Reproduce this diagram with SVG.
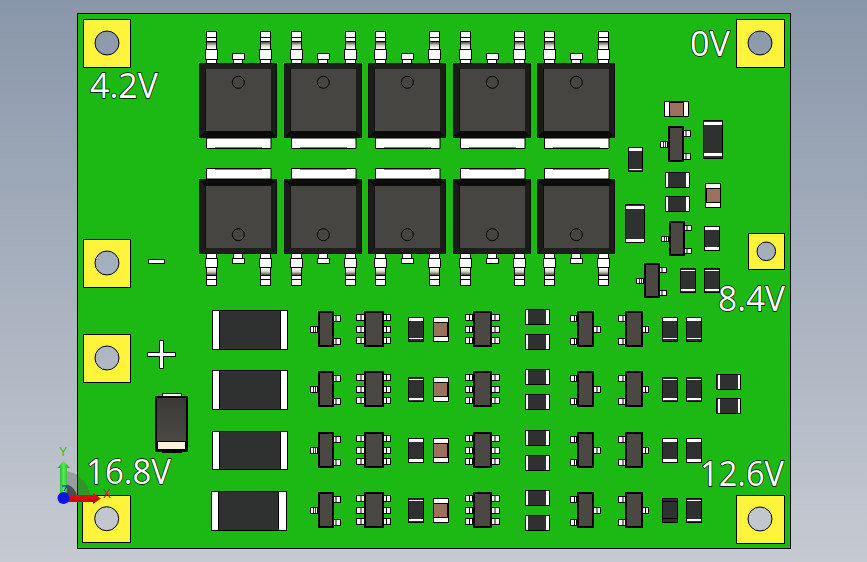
<svg xmlns="http://www.w3.org/2000/svg" xmlns:xlink="http://www.w3.org/1999/xlink" width="867" height="562" viewBox="0 0 867 562">
<style>
.w{fill:#fff;stroke:#000;stroke-width:1}
.d{fill:#2f3130;stroke:#000;stroke-width:1}
.k{fill:#000}
.b{fill:#fff}
.body{fill:#4b4844;stroke:#000;stroke-width:2}
.pad{fill:#fff33b;stroke:#000;stroke-width:1}
.hole{fill:url(#bg);stroke:#000;stroke-width:1}
.t{font-family:"Open Sans","Liberation Sans",sans-serif;font-size:34px;fill:#fff;stroke:#000;stroke-width:1.3;paint-order:stroke}
.f{font-family:"Liberation Sans",sans-serif;font-size:12px}
rect{shape-rendering:crispEdges}
</style>
<defs>
<linearGradient id="bg" gradientUnits="userSpaceOnUse" x1="0" y1="0" x2="0" y2="562"><stop offset="0" stop-color="#8997aa"/><stop offset="1" stop-color="#c6cad2"/></linearGradient>
<linearGradient id="lead" x1="0" y1="0" x2="0" y2="1"><stop offset="0" stop-color="#55534a"/><stop offset=".5" stop-color="#d8d5c6"/><stop offset="1" stop-color="#fff"/></linearGradient>
<linearGradient id="dio" x1="0" y1="0" x2="0" y2="1"><stop offset="0" stop-color="#3a3936"/><stop offset="1" stop-color="#4f4c47"/></linearGradient>
<linearGradient id="gy" x1="0" y1="0" x2="1" y2="0"><stop offset="0" stop-color="#0f9a1a"/><stop offset=".5" stop-color="#55ee55"/><stop offset="1" stop-color="#0f9a1a"/></linearGradient>
<linearGradient id="rx" x1="0" y1="0" x2="0" y2="1"><stop offset="0" stop-color="#f01010"/><stop offset="1" stop-color="#b00808"/></linearGradient>
<g id="pinT">
<rect class="w" x="206.500" y="31.500" width="9.500" height="18"/>
<rect class="k" x="207" y="37" width="8.500" height="1.200"/>
<rect class="k" x="207" y="41" width="8.500" height="1.200"/>
<rect x="207" y="42.200" width="8.500" height="6.500" fill="url(#lead)"/>
<rect class="w" x="205.500" y="49.500" width="12" height="9.500"/>
<rect class="w" x="206.500" y="59" width="9.500" height="5"/>
</g>
<g id="dpak">
<use xlink:href="#pinT"/>
<use xlink:href="#pinT" x="54"/>
<rect class="w" x="232.500" y="53.500" width="12" height="5.500"/>
<rect class="w" x="233.500" y="59" width="9" height="5"/>
<path class="w" d="M206.500 138V148.500H271V138Z"/>
<path class="k" d="M215 147.500H262V148.500H215Z"/>
<rect x="199" y="63" width="78" height="75" fill="#000"/>
<path fill="#1e1e1c" d="M199.500 63.500H276.500L270.500 69H205.500Z"/>
<path fill="#1b1b19" d="M199.500 63.500V137.500L205.500 131V69Z"/>
<path fill="#1b1b19" d="M276.500 63.500V137.500L270.500 131V69Z"/>
<path fill="#0c0c0b" d="M199.500 137.500H276.500L270.500 131H205.500Z"/>
<rect x="205.500" y="69" width="65" height="62" fill="#464542"/>
<circle cx="238.300" cy="82.300" r="6" fill="none" stroke="#000" stroke-width="1"/>
</g>
<g id="sa">
<rect class="w" x="-7" y="15.500" width="7" height="5.500"/><path class="k" d="M-4.500 15.500h.8v5.500h-.8zM-2.500 15.500h.8v5.500h-.8z"/>
<rect class="w" x="16" y="4.500" width="7" height="5.500"/><path class="k" d="M18 4.500h1v5.500h-1z"/>
<rect class="w" x="16" y="27.500" width="7" height="5.500"/><path class="k" d="M18 27.500h1v5.500h-1z"/>
<rect class="body" x="1" y="1" width="14.500" height="33.700"/>
</g>
<g id="sb">
<rect class="w" x="-6.500" y="4.500" width="6.500" height="5.500"/><path class="k" d="M-2.500 4.500h1v5.500h-1z"/>
<rect class="w" x="-6.500" y="27.500" width="6.500" height="5.500"/><path class="k" d="M-2.500 27.500h1v5.500h-1z"/>
<rect class="w" x="17" y="15.500" width="6.500" height="5.500"/><path class="k" d="M20 15.500h1v5.500h-1z"/>
<rect class="body" x="1" y="1" width="15.700" height="33.700"/>
</g>
<g id="s6">
<rect class="w" x="-7.500" y="3" width="7.500" height="6"/><path class="k" d="M-3.500 3h1v6h-1z"/>
<rect class="w" x="-7.500" y="15" width="7.500" height="6"/><path class="k" d="M-3.500 15h1v6h-1z"/>
<rect class="w" x="-7.500" y="26" width="7.500" height="6"/><path class="k" d="M-3.500 26h1v6h-1z"/>
<rect class="w" x="19" y="3" width="7.500" height="6"/><path class="k" d="M22 3h1v6h-1z"/>
<rect class="w" x="19" y="15" width="7.500" height="6"/><path class="k" d="M22 15h1v6h-1z"/>
<rect class="w" x="19" y="26" width="7.500" height="6"/><path class="k" d="M22 26h1v6h-1z"/>
<rect class="body" x="1" y="1" width="17.500" height="33.700"/>
</g>
<g id="cv">
<rect class="d" x="0.500" y="0.500" width="14.500" height="24"/>
<rect class="b" x="1" y="1" width="14" height="3"/>
<rect class="b" x="1" y="20.500" width="14" height="1.500"/>
</g>
<g id="cv2">
<rect class="d" x="0.500" y="0.500" width="14.500" height="24"/>
<rect class="b" x="1" y="1.500" width="14" height="1.500"/>
<rect class="b" x="1" y="21" width="14" height="1.500"/>
</g>
<g id="cv3">
<rect class="d" x="0.500" y="0.500" width="14.500" height="23.500"/>
<rect class="b" x="1" y="1" width="14" height="3"/>
<rect class="b" x="1" y="20.500" width="14" height="3"/>
</g>
<g id="ch">
<rect class="d" x="0.500" y="0.500" width="24" height="15"/>
<rect class="b" x="1.500" y="1" width="2" height="14"/>
<rect class="b" x="21.500" y="1" width="2.500" height="14"/>
</g>
<g id="rv">
<rect class="w" x="0.500" y="0.500" width="15" height="24"/>
<rect x="1" y="5.500" width="14" height="14" fill="#9b705c" stroke="#000" stroke-width="1"/>
</g>
<g id="dbig">
<rect class="d" x="0.500" y="0.500" width="75" height="38.500"/>
<rect class="w" x="0.500" y="0.500" width="7" height="38.500"/>
<rect class="w" x="68" y="0.500" width="7.500" height="38.500"/>
</g>
<g id="row">
<use xlink:href="#sa" x="317.500" y="311"/>
<use xlink:href="#s6" x="364" y="311"/>
<use xlink:href="#rv" x="432.500" y="317"/>
<use xlink:href="#s6" x="472.500" y="311"/>
<use xlink:href="#ch" x="524.500" y="309"/>
<use xlink:href="#ch" x="524.500" y="334"/>
<use xlink:href="#sb" x="576.500" y="311"/>
<use xlink:href="#sb" x="625" y="311"/>
</g>
</defs>

<rect width="867" height="562" fill="url(#bg)"/>
<rect x="77" y="13.500" width="713" height="535" fill="#1cb813" stroke="#000" stroke-width="1"/>

<g id="pads">
<rect class="pad" x="83" y="19.500" width="47.500" height="47.500"/><circle class="hole" cx="107" cy="43" r="12"/>
<rect class="pad" x="736.500" y="19.500" width="47.500" height="47.500"/><circle class="hole" cx="760" cy="43" r="12"/>
<rect class="pad" x="83" y="239.500" width="47.500" height="47.500"/><circle class="hole" cx="107" cy="263" r="12"/>
<rect class="pad" x="83" y="334.500" width="47.500" height="47.500"/><circle class="hole" cx="107" cy="358" r="12"/>
<rect class="pad" x="82.500" y="495.500" width="48" height="47"/><circle class="hole" cx="106.700" cy="518.700" r="12"/>
<rect class="pad" x="736.500" y="495.500" width="47.500" height="47.500"/><circle class="hole" cx="760" cy="519" r="12"/>
<rect class="pad" x="748.500" y="233.500" width="36" height="36"/><circle class="hole" cx="766.300" cy="251.300" r="9.300"/>
</g>

<g id="mosfets-top">
<use xlink:href="#dpak"/>
<use xlink:href="#dpak" x="85"/>
<use xlink:href="#dpak" x="169"/>
<use xlink:href="#dpak" x="254"/>
<use xlink:href="#dpak" x="338"/>
</g>
<g id="mosfets-bottom" transform="translate(0,317) scale(1,-1)">
<use xlink:href="#dpak"/>
<use xlink:href="#dpak" x="85"/>
<use xlink:href="#dpak" x="169"/>
<use xlink:href="#dpak" x="254"/>
<use xlink:href="#dpak" x="338"/>
</g>

<g id="right-parts">
<g transform="translate(664.500,101.500)">
<rect class="w" x="0" y="0" width="24" height="15"/>
<rect x="5" y="0.500" width="14" height="14" fill="#9b705c" stroke="#000" stroke-width="1"/>
</g>
<use xlink:href="#sa" x="667.500" y="126"/>
<g transform="translate(703,119.500)">
<rect class="d" x="0.500" y="0.500" width="19" height="38"/>
<rect class="b" x="1" y="2" width="18" height="3"/>
<rect class="b" x="1" y="33.500" width="18" height="3"/>
</g>
<g transform="translate(628.500,147.500)">
<rect class="d" x="0" y="0" width="14" height="24"/>
<rect class="b" x="0.500" y="0.500" width="13" height="3"/>
<rect class="b" x="0.500" y="21" width="13" height="1.500"/>
</g>
<use xlink:href="#ch" x="664.500" y="172"/>
<use xlink:href="#ch" x="664.500" y="196"/>
<use xlink:href="#rv" x="705" y="182.500"/>
<g transform="translate(625,204.500)">
<rect class="d" x="0.500" y="0" width="19" height="38"/>
<rect class="b" x="1" y="1" width="18" height="3.500"/>
<rect class="b" x="1" y="34" width="18" height="3.500"/>
</g>
<use xlink:href="#sa" x="668.500" y="220.500"/>
<use xlink:href="#cv3" x="704" y="226"/>
<use xlink:href="#sa" x="643.500" y="262.500"/>
<use xlink:href="#cv2" x="680" y="268"/>
<use xlink:href="#cv2" x="704" y="268"/>
</g>

<g id="rows">
<use xlink:href="#row"/>
<use xlink:href="#row" y="60"/>
<use xlink:href="#row" y="121"/>
<use xlink:href="#row" y="181"/>
<use xlink:href="#cv" x="408" y="317"/><use xlink:href="#cv" x="662" y="317"/><use xlink:href="#cv" x="686" y="317"/>
<use xlink:href="#cv2" x="408" y="377"/><use xlink:href="#cv2" x="662" y="377"/><use xlink:href="#cv2" x="686" y="377"/>
<use xlink:href="#cv3" x="408" y="438"/><use xlink:href="#cv3" x="662" y="438"/><use xlink:href="#cv3" x="686" y="438"/>
<use xlink:href="#cv2" x="408" y="498"/><use xlink:href="#cv2" x="686" y="498"/>
<g transform="translate(662,498)">
<rect class="d" x="0.500" y="0.500" width="14.500" height="24"/>
<rect class="k" x="1" y="2.500" width="14" height="1.500"/>
<rect class="k" x="1" y="19.500" width="14" height="1.500"/>
</g>
<use xlink:href="#dbig" x="212" y="310"/>
<use xlink:href="#dbig" x="212" y="370"/>
<use xlink:href="#dbig" x="212" y="430.500"/>
<use xlink:href="#dbig" x="210.500" y="491"/>
<g transform="translate(716,374)">
<use xlink:href="#ch"/>
<use xlink:href="#ch" y="24"/>
</g>
</g>

<g id="diode">
<rect class="w" x="162.500" y="393.500" width="18.500" height="3"/>
<rect x="162.500" y="450" width="18.500" height="2.500" class="d"/>
<rect x="156" y="397" width="31" height="53.500" fill="url(#dio)" stroke="#000" stroke-width="2"/>
<rect x="157.500" y="441.500" width="28" height="7.500" fill="#fdf3d8" stroke="#000" stroke-width="1"/>
</g>

<g id="labels">
<text class="t" x="90" y="97.500" textLength="68" lengthAdjust="spacingAndGlyphs">4.2V</text>
<text class="t" x="690" y="55.500" textLength="40" lengthAdjust="spacingAndGlyphs">0V</text>
<text class="t" x="718" y="310.500" textLength="67" lengthAdjust="spacingAndGlyphs">8.4V</text>
<text class="t" x="86" y="484" textLength="85" lengthAdjust="spacingAndGlyphs">16.8V</text>
<text class="t" x="700" y="486" textLength="84" lengthAdjust="spacingAndGlyphs">12.6V</text>
<rect x="148.500" y="259.500" width="16" height="4" fill="#fff" stroke="#000" stroke-width="1"/>
<path d="M159.500 340.500h4v12h12v4h-12v12h-4v-12h-12v-4h12z" fill="#fff" stroke="#000" stroke-width="1"/>
</g>

<g id="triad">
<path d="M63 498V471A27 27 0 0 1 90 498Z" fill="#555" fill-opacity=".35"/>
<path d="M63 498V484A14 14 0 0 1 77 498Z" fill="#333" fill-opacity=".75"/>
<path d="M60 497V468H57.500L63.500 461L70 468H67V497Z" fill="url(#gy)"/>
<path d="M65 495H93V493L101 498.500L93 504V502H65Z" fill="url(#rx)"/>
<path d="M62 486H67L64 491" fill="none" stroke="#0a14e6" stroke-width="1"/>
<circle cx="63.500" cy="498" r="6" fill="#0a14e6"/>
<text class="f" x="63" y="456" text-anchor="middle" fill="#19c02a">Y</text>
<text class="f" x="107" y="498" text-anchor="middle" fill="#e01010">X</text>
</g>
</svg>
